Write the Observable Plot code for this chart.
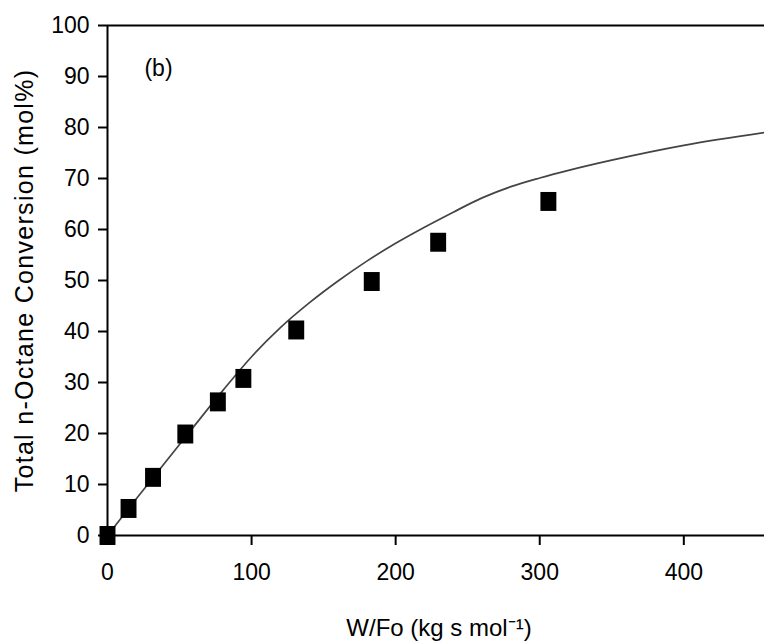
<!DOCTYPE html>
<html>
<head>
<meta charset="utf-8">
<script src="https://cdn.jsdelivr.net/npm/d3@7"></script>
<script src="https://cdn.jsdelivr.net/npm/@observablehq/plot@0.6"></script>
<style>
  html, body { margin: 0; padding: 0; background: #fff; }
  #chart { width: 764px; height: 643px; }
</style>
</head>
<body>
<div id="chart"></div>
<script>
// Experimental points (W/Fo, conversion mol%)
const expX = [0, 14.6, 31.6, 54, 76.6, 94.3, 131, 183.4, 229.5, 306];
const expY = [0, 5.3, 11.4, 19.9, 26.2, 30.8, 40.3, 49.8, 57.5, 65.5];

// Model curve
const fitX = [0, 20, 40, 60, 80, 100, 120, 140, 160, 180, 200, 220, 240, 260, 280, 300, 320, 350, 400, 456];
const fitY = [0, 7.2, 14.3, 21.4, 28.4, 35.05, 40.75, 45.6, 49.9, 53.8, 57.3, 60.45, 63.4, 66.2, 68.4, 70.1, 71.6, 73.6, 76.5, 79];

const xTicks = [0, 100, 200, 300, 400];
const yTicks = [0, 10, 20, 30, 40, 50, 60, 70, 80, 90, 100];

const xLabel = "W/Fo (kg s mol\u207B\u00B9)";
const yLabel = "Total n-Octane Conversion (mol%)";
const panelLabel = "(b)";

const points = expX.map((x, i) => ({x, y: expY[i]}));
const curve = fitX.map((x, i) => ({x, y: fitY[i]}));

// tall rectangle marker
const tallSquare = {
  draw(context, size) {
    const h = Math.sqrt(size);
    const w = h * 0.84;
    context.rect(-w / 2, -h / 2, w, h);
  }
};

const chart = Plot.plot({
  width: 764,
  height: 643,
  marginTop: 25,
  marginBottom: 108,
  marginLeft: 107,
  marginRight: 0,
  style: {fontFamily: "'Liberation Sans', Arial, sans-serif", color: "#000", background: "#fff"},
  x: {domain: [0, 456]},
  y: {domain: [0, 100]},
  marks: [
    Plot.axisY({ticks: yTicks, tickSize: 9, tickPadding: 9, fontSize: 23, strokeWidth: 2, label: null}),
    Plot.axisX({ticks: xTicks, tickSize: 10, tickPadding: 18, fontSize: 23, strokeWidth: 2, label: null}),
    Plot.ruleX([0], {stroke: "#000", strokeWidth: 2}),
    Plot.ruleY([0, 100], {stroke: "#000", strokeWidth: 2}),
    Plot.line(curve, {x: "x", y: "y", stroke: "#444", strokeWidth: 1.7, curve: "monotone-x"}),
    Plot.dot(points, {x: "x", y: "y", symbol: tallSquare, r: 10.7, fill: "#000", stroke: "none"}),
    Plot.text([panelLabel], {frameAnchor: "top-left", dx: 51, dy: 43, fontSize: 23, textAnchor: "middle", lineAnchor: "middle"}),
    Plot.text([xLabel], {frameAnchor: "bottom", dx: 3, dy: 93, fontSize: 24, textAnchor: "middle", lineAnchor: "middle"}),
    Plot.text([yLabel], {frameAnchor: "left", dx: -83, rotate: -90, fontSize: 25, textAnchor: "middle", lineAnchor: "middle"})
  ]
});

// widen the y-axis title's letter spacing like the reference
d3.select(chart).selectAll("text")
  .filter(function() { return this.textContent === yLabel; })
  .attr("letter-spacing", "1.3px");

document.getElementById("chart").appendChild(chart);
</script>
</body>
</html>
